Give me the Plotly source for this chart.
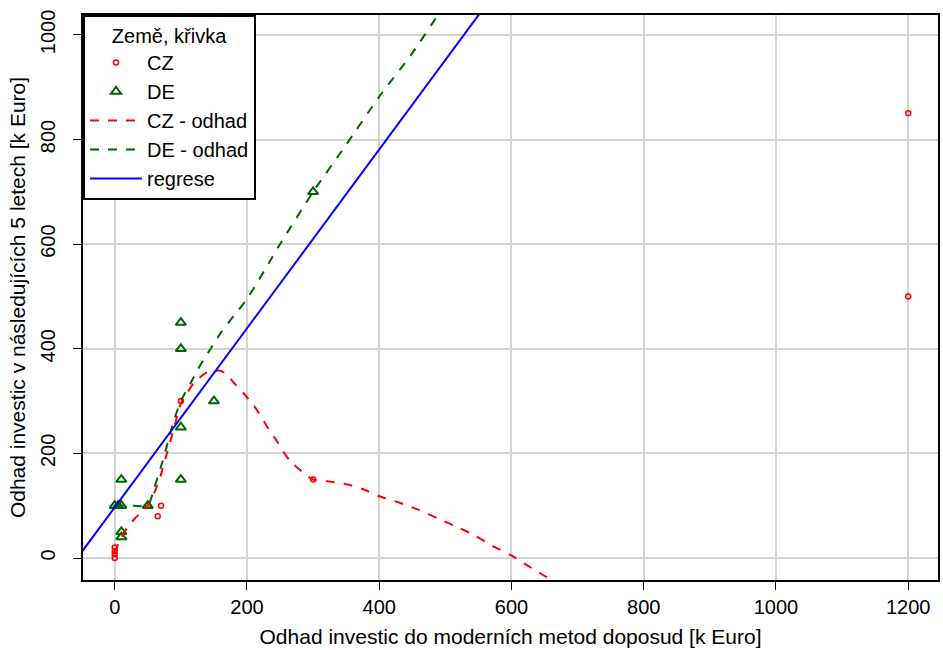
import plotly.graph_objects as go

# --- data ---
cz_x = [0, 0, 0, 0, 50, 65, 70, 100, 300, 1200, 1200]
cz_y = [0, 7, 13, 20, 100, 80, 100, 300, 150, 850, 500]

de_x = [0, 5, 10, 10, 10, 10, 50, 100, 100, 100, 100, 150, 300]
de_y = [100, 100, 100, 150, 50, 40, 100, 150, 250, 400, 450, 300, 700]

cz_fit_x = [0, 10, 20, 30, 40, 50, 60, 70, 80, 90, 100, 120, 140, 160, 170, 180, 195,
            215, 230, 247, 264, 288, 300, 320, 350, 375, 400, 430, 460, 490, 520, 545,
            570, 600, 625, 660, 670]
cz_fit_y = [10, 40, 60, 75, 88, 100, 125, 160, 205, 250, 295, 335, 355, 358, 350, 335, 315,
            283, 252, 220, 187, 160, 150, 147, 141, 132, 118, 106, 92, 75, 58, 43,
            24, 5, -15, -42, -52]

de_fit_x = [0, 10, 30, 50, 60, 70, 80, 90, 100, 115, 130, 145, 160, 180, 200, 250, 300,
            350, 400, 450, 490, 500]
de_fit_y = [100, 100, 100, 100, 135, 175, 220, 265, 300, 335, 370, 400, 430, 463, 495, 600, 700,
            790, 882, 965, 1040, 1058]

reg_intercept = 97
reg_slope = 1.71
reg_x = [-60, 650]
reg_y = [reg_intercept + reg_slope * v for v in reg_x]

x_ticks = [0, 200, 400, 600, 800, 1000, 1200]
y_ticks = [0, 200, 400, 600, 800, 1000]

RED = "#FF0000"
GREEN = "#006400"
BLUE = "#0000FF"
FONT = "Liberation Sans, Arial, sans-serif"

fig = go.Figure()
fig.add_trace(go.Scatter(x=cz_x, y=cz_y, mode="markers", name="CZ",
                         marker=dict(symbol="circle-open", size=5, color=RED,
                                     line=dict(width=1.5, color=RED))))
fig.add_trace(go.Scatter(x=de_x, y=de_y, mode="markers", name="DE",
                         marker=dict(symbol="triangle-up-open", size=9, color=GREEN,
                                     line=dict(width=2, color=GREEN))))
fig.add_trace(go.Scatter(x=cz_fit_x, y=cz_fit_y, mode="lines", name="CZ - odhad",
                         line=dict(color=RED, width=2, dash="dash", shape="spline", smoothing=0.6)))
fig.add_trace(go.Scatter(x=de_fit_x, y=de_fit_y, mode="lines", name="DE - odhad",
                         line=dict(color=GREEN, width=2, dash="dash", shape="spline", smoothing=0.6)))
fig.add_trace(go.Scatter(x=reg_x, y=reg_y, mode="lines", name="regrese",
                         line=dict(color=BLUE, width=2)))

axis_common = dict(
    showgrid=True, gridcolor="#D3D3D3", gridwidth=2,
    zeroline=False,
    showline=True, linecolor="black", linewidth=2, mirror=True,
    ticks="outside", ticklen=8, tickwidth=1, tickcolor="black",
    tickfont=dict(family=FONT, size=20, color="black"),
)

fig.update_layout(
    width=943, height=650,
    margin=dict(l=83, r=3, t=15, b=70),
    paper_bgcolor="white", plot_bgcolor="white",
    font=dict(family=FONT, size=20, color="black"),
    xaxis=dict(range=[-48, 1245], tickvals=x_ticks,
               title=dict(text="Odhad investic do moderních metod doposud [k Euro]",
                          font=dict(family=FONT, size=21, color="black"), standoff=12),
               **axis_common),
    yaxis=dict(range=[-42, 1038], tickvals=y_ticks, tickangle=-90, ticklabelstandoff=10,
               title=dict(text="Odhad investic v následujících 5 letech [k Euro]",
                          font=dict(family=FONT, size=21, color="black"), standoff=6),
               **axis_common),
    legend=dict(x=0, y=1, xanchor="left", yanchor="top",
                bgcolor="white", bordercolor="black", borderwidth=2,
                font=dict(family=FONT, size=20, color="black"),
                title=dict(text="Země, křivka", side="top center",
                           font=dict(family=FONT, size=20, color="black")),
                tracegroupgap=0, itemwidth=52),
    showlegend=True,
)

fig.write_html("out.html")
